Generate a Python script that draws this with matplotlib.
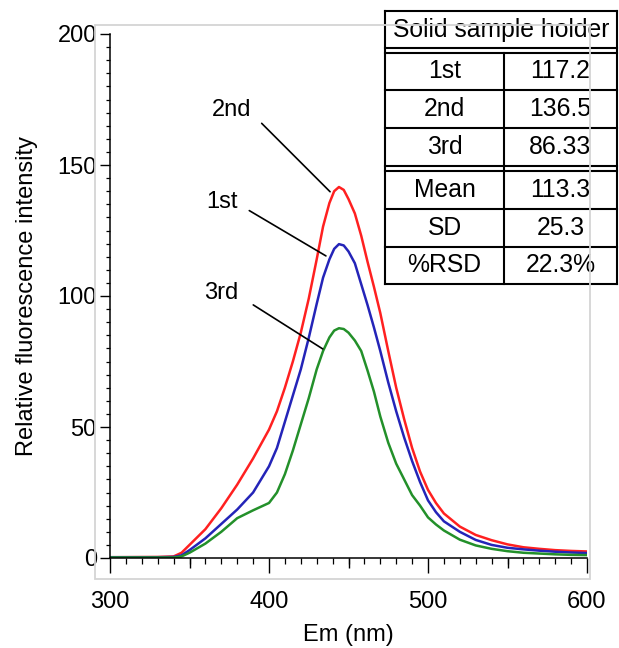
import matplotlib
matplotlib.use("Agg")
import matplotlib.pyplot as plt
from matplotlib.ticker import MultipleLocator
from matplotlib.patches import Rectangle

plt.rcParams['font.family'] = ['Liberation Sans', 'DejaVu Sans']

# emission wavelength grid (nm)
em_nm = [300, 330, 340, 345, 350, 360, 370, 380, 390, 400, 405, 410, 415, 420,
         425, 430, 434, 438, 441, 444, 447, 450, 454, 458, 462, 466, 470, 475, 480,
         485, 490, 495, 500, 505, 510, 520, 530, 540, 550, 560, 570, 580, 590, 600]

run_1st = [0.3, 0.3, 0.4, 1.0, 3.0, 7.5, 13, 18.5, 25, 35, 42, 52, 62, 72,
           84, 97, 107, 114, 118, 119.8, 119.3, 117, 112.5, 104.5, 96.5, 88, 79, 67, 56,
           46, 37, 29, 22, 17.5, 14, 10, 6.9, 5.0, 3.9, 3.3, 2.8, 2.4, 2.1, 1.9]

run_2nd = [0.3, 0.4, 0.6, 2.0, 5.0, 11, 19, 28, 38, 49, 56, 65, 75, 86,
           99, 114, 126.5, 135.5, 140, 141.6, 140.5, 137, 131.5, 123, 113, 103.5, 93.5, 79, 65,
           53, 42, 33, 26, 21, 17, 12, 8.8, 6.8, 5.2, 4.1, 3.5, 3.0, 2.7, 2.5]

run_3rd = [0.2, 0.2, 0.2, 0.6, 2.0, 5.5, 10, 15.2, 18.2, 21, 25, 32, 41, 51,
           61, 72, 79, 84.2, 86.8, 87.7, 87.4, 86, 83, 79, 71.5, 63.5, 54, 44, 36,
           30, 24, 20, 15.5, 12.8, 10.5, 7.0, 4.8, 3.5, 2.6, 2.0, 1.7, 1.4, 1.2, 1.1]

# summary table
table_title = "Solid sample holder"
table_rows = ["1st", "2nd", "3rd"]
table_vals = ["117.2", "136.5", "86.33"]
stat_rows = ["Mean", "SD", "%RSD"]
stat_vals = ["113.3", "25.3", "22.3%"]

W, H = 619, 648
fig = plt.figure(figsize=(W / 100, H / 100), dpi=100)
ax = fig.add_axes([110 / W, 1 - 558 / H, (587 - 110) / W, (558 - 34) / H])
ax.patch.set_alpha(0)

ax.plot(em_nm, run_2nd, color='#ff2020', lw=1.8)
ax.plot(em_nm, run_1st, color='#2424b8', lw=1.8)
ax.plot(em_nm, run_3rd, color='#23902a', lw=1.8)

ax.set_xlim(300, 600)
ax.set_ylim(0, 200)
for s in ['top', 'right']:
    ax.spines[s].set_visible(False)
for s in ['left', 'bottom']:
    ax.spines[s].set_linewidth(1.1)

ax.xaxis.set_major_locator(MultipleLocator(100))
ax.xaxis.set_minor_locator(MultipleLocator(10))
ax.yaxis.set_major_locator(MultipleLocator(50))
ax.yaxis.set_minor_locator(MultipleLocator(5))
ax.tick_params(axis='x', which='major', length=10.8, width=1.0, pad=13, labelsize=17)
ax.tick_params(axis='x', which='minor', length=4.3, width=0.9)
ax.tick_params(axis='y', which='major', length=7.5, width=1.0, pad=2, labelsize=17)
ax.tick_params(axis='y', which='minor', length=3.0, width=0.9)

# medium ticks at the 50 nm marks
mid = ax.secondary_xaxis('bottom')
mid.set_xticks([350, 450, 550])
mid.set_xticklabels([])
mid.tick_params(length=7.2, width=1.0)
mid.spines['bottom'].set_visible(False)

ax.set_xlabel("Em (nm)", fontsize=17, labelpad=8)
ax.set_ylabel("Relative fluorescence intensity", fontsize=17, labelpad=14)

# curve labels with leader lines
ax.text(376.7, 171, "2nd", fontsize=17, ha='center', va='center')
ax.text(370.4, 136, "1st", fontsize=17, ha='center', va='center')
ax.text(370.1, 101, "3rd", fontsize=17, ha='center', va='center')
for start, end in [((395.4, 165.9), (438.4, 139.8)),
                   ((387.6, 132.6), (435.8, 115.3)),
                   ((390.1, 96.6), (433.8, 79.8))]:
    ax.annotate('', xy=end, xytext=start,
                arrowprops=dict(arrowstyle='-', color='black', lw=1.2,
                                shrinkA=0, shrinkB=0))

# light frame around the plot
fig.patches.append(Rectangle((95 / W, 1 - 579 / H), (590 - 95) / W, (579 - 25) / H,
                             transform=fig.transFigure, fill=False,
                             edgecolor='#d4d4d4', lw=1.3))

# table drawn in pixel coordinates on an overlay
tax = fig.add_axes([0, 0, 1, 1])
tax.set_xlim(0, W)
tax.set_ylim(H, 0)
tax.axis('off')
tax.patch.set_alpha(0)

left, right, mid_x, top = 385, 617, 504, 11
lw = 1.5
row_h = 37.8
fs = 17.8
tax.text((left + right) / 2, 29.5, table_title, fontsize=fs, ha='center', va='center')
tax.plot([left, right], [top, top], color='k', lw=lw)
tax.plot([left, right], [47.5, 47.5], color='k', lw=lw)
y = 52.5
tax.plot([left, right], [y, y], color='k', lw=lw)
for name, val in zip(table_rows, table_vals):
    tax.text((left + mid_x) / 2, y + row_h / 2, name, fontsize=fs, ha='center', va='center')
    tax.text((mid_x + right) / 2, y + row_h / 2, val, fontsize=fs, ha='center', va='center')
    y += row_h
    tax.plot([left, right], [y, y], color='k', lw=lw)
y += 5
tax.plot([left, right], [y, y], color='k', lw=lw)
for name, val in zip(stat_rows, stat_vals):
    tax.text((left + mid_x) / 2, y + row_h / 2, name, fontsize=fs, ha='center', va='center')
    tax.text((mid_x + right) / 2, y + row_h / 2, val, fontsize=fs, ha='center', va='center')
    y += row_h
    tax.plot([left, right], [y, y], color='k', lw=lw)
tax.plot([left, left], [top, y], color='k', lw=lw)
tax.plot([right, right], [top, y], color='k', lw=lw)
tax.plot([mid_x, mid_x], [52.5, y], color='k', lw=lw)

fig.savefig("out.png", dpi=100)
